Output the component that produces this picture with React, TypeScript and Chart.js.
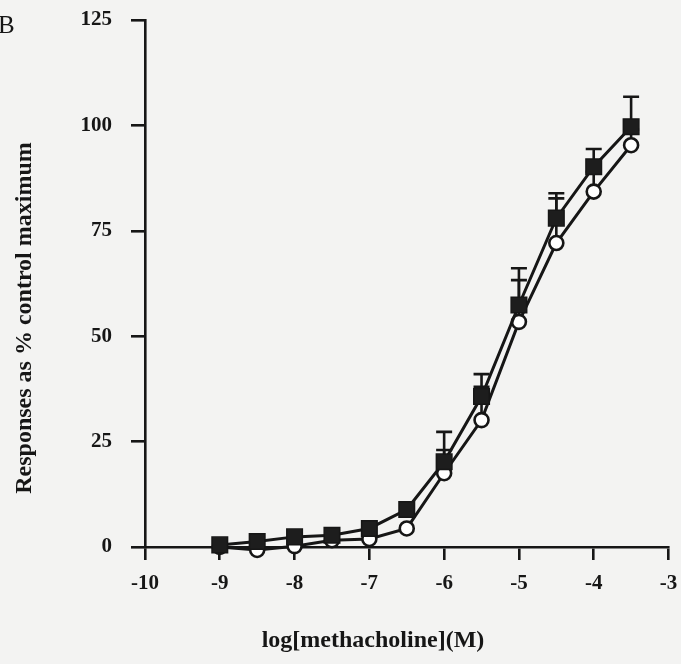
import React, { useEffect, useRef } from "react";
import { Chart, registerables } from "chart.js";

Chart.register(...registerables);

// log[methacholine] (M)
const doses = [-9, -8.5, -8, -7.5, -7, -6.5, -6, -5.5, -5, -4.5, -4, -3.5];
// filled squares
const squareMeans = [0.5, 1.3, 2.4, 2.8, 4.4, 8.9, 20.2, 35.7, 57.4, 78.0, 90.2, 99.7];
const squareErrTop: (number | null)[] = [null, null, null, null, null, null, 27.3, 41.0, 66.1, 83.9, 94.4, 106.8];
// open circles
const circleMeans = [0.0, -0.7, 0.2, 1.6, 1.9, 4.4, 17.5, 30.1, 53.4, 72.1, 84.3, 95.3];
const circleErrTop: (number | null)[] = [null, null, null, null, null, null, 23.0, 38.0, 63.3, 82.7, 89.0, 99.0];

const xTickValues = [-10, -9, -8, -7, -6, -5, -4, -3];
const yTickValues = [0, 25, 50, 75, 100, 125];

const panelLabel = "B";
const xTitle = "log[methacholine](M)";
const yTitle = "Responses as % control maximum";

const INK = "#161616";
const BG = "#f3f3f2";
const SERIF = '"Liberation Serif", "DejaVu Serif", serif';

export default function App() {
  const ref = useRef<HTMLCanvasElement | null>(null);

  useEffect(() => {
    const canvas = ref.current;
    if (!canvas) return;

    const bgPlugin = {
      id: "bg",
      beforeDraw(chart: any) {
        const { ctx, width, height } = chart;
        ctx.save();
        ctx.fillStyle = BG;
        ctx.fillRect(0, 0, width, height);
        ctx.restore();
      },
    };

    const errorBars = {
      id: "errorBars",
      beforeDatasetsDraw(chart: any) {
        const { ctx } = chart;
        const xs = chart.scales.x;
        const ys = chart.scales.y;
        ctx.save();
        ctx.strokeStyle = INK;
        ctx.lineWidth = 2.6;
        const drawSet = (means: number[], tops: (number | null)[]) => {
          doses.forEach((d, i) => {
            const t = tops[i];
            if (t == null) return;
            const px = xs.getPixelForValue(d);
            const py0 = ys.getPixelForValue(means[i]);
            const py1 = ys.getPixelForValue(t);
            ctx.beginPath();
            ctx.moveTo(px, py0);
            ctx.lineTo(px, py1);
            ctx.moveTo(px - 8, py1);
            ctx.lineTo(px + 8, py1);
            ctx.stroke();
          });
        };
        drawSet(circleMeans, circleErrTop);
        drawSet(squareMeans, squareErrTop);
        ctx.restore();
      },
    };

    const texts = {
      id: "texts",
      afterDraw(chart: any) {
        const { ctx } = chart;
        ctx.save();
        ctx.fillStyle = INK;
        ctx.font = `25px ${SERIF}`;
        ctx.textAlign = "left";
        ctx.textBaseline = "alphabetic";
        ctx.fillText(panelLabel, -2, 33);

        ctx.font = `bold 24px ${SERIF}`;
        ctx.textAlign = "center";
        ctx.fillText(xTitle, 373, 647);

        ctx.translate(31, 318);
        ctx.rotate(-Math.PI / 2);
        ctx.fillText(yTitle, 0, 0);
        ctx.restore();
      },
    };

    const chart = new Chart(canvas, {
      type: "line",
      data: {
        datasets: [
          {
            label: "squares",
            data: doses.map((d, i) => ({ x: d, y: squareMeans[i] })),
            borderColor: INK,
            borderWidth: 3,
            backgroundColor: INK,
            pointStyle: "rect",
            pointRadius: 11,
            pointBorderWidth: 1.5,
            pointBorderColor: INK,
            pointBackgroundColor: "#1d1d1d",
            tension: 0,
            clip: false as any,
          },
          {
            label: "circles",
            data: doses.map((d, i) => ({ x: d, y: circleMeans[i] })),
            borderColor: INK,
            borderWidth: 3,
            backgroundColor: "#ffffff",
            pointStyle: "circle",
            pointRadius: 7,
            pointBorderWidth: 2.6,
            pointBorderColor: INK,
            pointBackgroundColor: "#ffffff",
            tension: 0,
            clip: false as any,
          },
        ],
      },
      options: {
        responsive: false,
        animation: false,
        devicePixelRatio: 1,
        layout: { padding: { left: 0, right: 7, top: 20, bottom: 0 } },
        plugins: {
          legend: { display: false },
          tooltip: { enabled: false },
          title: { display: false },
        },
        scales: {
          x: {
            type: "linear",
            min: -10,
            max: -3,
            afterBuildTicks(scale: any) {
              scale.ticks = xTickValues.map((v) => ({ value: v }));
            },
            afterFit(scale: any) {
              scale.height = 117;
              scale.paddingLeft = 0;
              scale.paddingRight = 0;
            },
            border: { display: true, color: INK, width: 2.6 },
            grid: {
              drawOnChartArea: false,
              drawTicks: true,
              tickLength: 13,
              color: INK,
              lineWidth: 2.6,
            },
            ticks: {
              padding: 11,
              color: INK,
              maxRotation: 0,
              autoSkip: false,
              font: { family: SERIF, size: 21, weight: "bold" },
              callback: (v: any) => String(v),
            },
          },
          y: {
            type: "linear",
            min: 0,
            max: 125,
            afterBuildTicks(scale: any) {
              scale.ticks = yTickValues.map((v) => ({ value: v }));
            },
            afterFit(scale: any) {
              scale.width = 145;
              scale.paddingTop = 0;
              scale.paddingBottom = 0;
            },
            border: { display: true, color: INK, width: 2.6 },
            grid: {
              drawOnChartArea: false,
              drawTicks: true,
              tickLength: 14,
              color: INK,
              lineWidth: 2.6,
            },
            ticks: {
              padding: 19,
              color: INK,
              autoSkip: false,
              font: { family: SERIF, size: 21, weight: "bold" },
              callback: (v: any) => String(v),
            },
          },
        },
      } as any,
      plugins: [bgPlugin, errorBars, texts],
    });

    return () => chart.destroy();
  }, []);

  return (
    <div style={{ position: "fixed", left: 0, top: 0, width: 681, height: 664, background: BG }}>
      <canvas ref={ref} width={681} height={664} style={{ display: "block" }} />
    </div>
  );
}
